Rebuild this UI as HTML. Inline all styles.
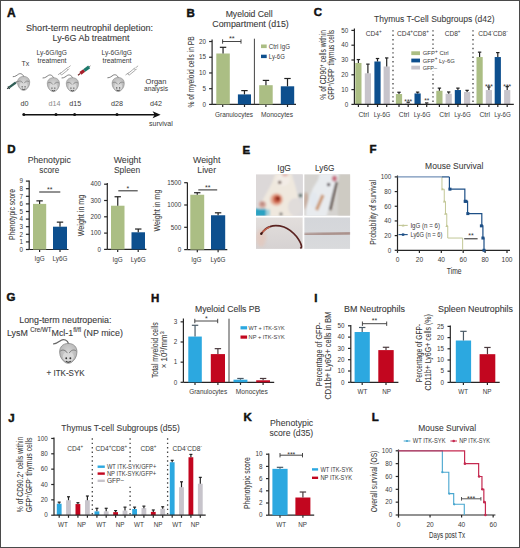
<!DOCTYPE html>
<html><head><meta charset="utf-8"><title>Figure</title>
<style>html,body{margin:0;padding:0;background:#fff;width:520px;height:548px;overflow:hidden}
svg{display:block;font-family:"Liberation Sans",sans-serif}</style></head>
<body>
<svg width="520" height="548" viewBox="0 0 520 548" font-family="Liberation Sans, sans-serif" fill="#3a3a3a">
<rect x="0.00" y="0.00" width="520.00" height="548.00" fill="#ffffff"/>
<rect x="0.5" y="0.5" width="519" height="547" fill="none" stroke="#4a4a4a" stroke-width="1"/>
<defs>
<radialGradient id="mg" cx="0.5" cy="0.4" r="0.65"><stop offset="0" stop-color="#d4d4d4"/><stop offset="1" stop-color="#b0b0b0"/></radialGradient>
<g id="mouse">
 <path d="M0.2,-6.8 C-0.6,-9.4 -3.2,-10.4 -5,-9.3 C-6.6,-8.3 -8.2,-6.6 -10.4,-6.7" fill="none" stroke="#666" stroke-width="0.85" stroke-linecap="round"/>
 <path d="M0,-7 C4,-7 6.1,-4.4 6.1,-1 C6.1,2.6 4.1,5 2.1,6.4 C1,7.1 -1,7.1 -2.1,6.4 C-4.1,5 -6.1,2.6 -6.1,-1 C-6.1,-4.4 -4,-7 0,-7 Z" fill="url(#mg)" stroke="#858585" stroke-width="0.55"/>
 <ellipse cx="0" cy="2.2" rx="3.9" ry="3.6" fill="#d9d9d9"/>
 <path d="M-0.7,-0.2 C-1.8,-2.4 -4,-3 -5.7,-1.6 M0.7,-0.2 C1.8,-2.4 4,-3 5.7,-1.6" fill="none" stroke="#7a7a7a" stroke-width="0.7"/>
 <circle cx="-1.45" cy="3.4" r="0.65" fill="#333"/><circle cx="1.45" cy="3.4" r="0.65" fill="#333"/>
 <path d="M-1.7,5.5 Q0,6.9 1.7,5.5" fill="none" stroke="#333" stroke-width="0.75"/>
</g>
<g id="syr_o">
 <path d="M0,0 L3,-2.2 M2.2,-1.2 L8.6,-6.4 L10,-5.0 L3.6,0.2 Z M8.6,-6.4 L9.8,-7.4 M10,-5.0 L11.2,-6.2 M10.2,-7.2 L12.6,-9.2" fill="none" stroke="#888" stroke-width="0.7"/>
</g>
</defs>
<text x="7.00" y="16.80" font-size="12" stroke="#111" stroke-width="0.45" fill="#111" font-weight="bold">A</text>
<text x="26.00" y="30.90" font-size="9.4" stroke="#3a3a3a" stroke-width="0.1" textLength="127.00" lengthAdjust="spacingAndGlyphs">Short-term neutrophil depletion:</text>
<text x="52.50" y="41.10" font-size="9.4" stroke="#3a3a3a" stroke-width="0.1" textLength="77.00" lengthAdjust="spacingAndGlyphs">Ly-6G Ab treatment</text>
<text x="36.50" y="54.60" font-size="7" textLength="30.50" lengthAdjust="spacingAndGlyphs">Ly-6G/IgG</text>
<text x="37.50" y="63.00" font-size="7" textLength="29.00" lengthAdjust="spacingAndGlyphs">treatment</text>
<text x="101.50" y="54.60" font-size="7" textLength="30.50" lengthAdjust="spacingAndGlyphs">Ly-6G/IgG</text>
<text x="102.50" y="63.00" font-size="7" textLength="29.00" lengthAdjust="spacingAndGlyphs">treatment</text>
<text x="21.50" y="65.80" font-size="7">Tx</text>
<text x="156.00" y="83.60" font-size="7.6" text-anchor="middle" textLength="21.00" lengthAdjust="spacingAndGlyphs">Organ</text>
<text x="156.00" y="91.20" font-size="7.6" text-anchor="middle" textLength="24.00" lengthAdjust="spacingAndGlyphs">analysis</text>
<text x="24.60" y="106.30" font-size="7.2" text-anchor="middle">d0</text>
<text x="54.60" y="106.30" font-size="7.2" text-anchor="middle" fill="#8a8a8a">d14</text>
<text x="75.20" y="106.30" font-size="7.2" text-anchor="middle">d15</text>
<text x="117.00" y="106.30" font-size="7.2" text-anchor="middle">d28</text>
<text x="156.00" y="106.30" font-size="7.2" text-anchor="middle">d42</text>
<line x1="23.80" y1="114.70" x2="155.00" y2="114.70" stroke="#111" stroke-width="1.35"/>
<path d="M152.6,111.2 L160.6,114.7 L152.6,118.2 L154.6,114.7 Z" fill="#111"/>
<circle cx="23.8" cy="114.6" r="1.5" fill="#111"/>
<circle cx="56.0" cy="114.6" r="1.5" fill="#111"/>
<circle cx="74.6" cy="114.6" r="1.5" fill="#111"/>
<circle cx="117.0" cy="114.6" r="1.5" fill="#111"/>
<text x="149.00" y="126.00" font-size="7">survival</text>
<use href="#mouse" transform="translate(23.6,83.4)"/>
<use href="#mouse" transform="translate(53.4,84.7)"/>
<use href="#mouse" transform="translate(72.4,84.7)"/>
<use href="#mouse" transform="translate(118.2,84.5)"/>
<g transform="translate(7.2,88.8) rotate(-36)"><rect x="0" y="-0.7" width="2.2" height="1.4" fill="#2b3a3a"/><rect x="1.6" y="-1.6" width="0.9" height="3.2" fill="#2b3a3a"/><rect x="2.5" y="-1.1" width="8.2" height="2.2" fill="#2f5e56"/><line x1="10.7" y1="0" x2="12.6" y2="0" stroke="#333" stroke-width="0.9"/></g>
<g transform="translate(78.0,75.2) rotate(-37)"><rect x="0" y="-0.6" width="3" height="1.2" fill="#6a1a1a"/><rect x="3" y="-1.6" width="4.8" height="3.2" fill="#a8202c"/><rect x="7.8" y="-1.7" width="6.2" height="3.4" fill="#1d7a6c"/><line x1="14" y1="0" x2="15.5" y2="0" stroke="#555" stroke-width="0.8"/></g>
<use href="#syr_o" transform="translate(58.0,74.8)"/>
<use href="#syr_o" transform="translate(125.5,75.0)"/>
<text x="186.60" y="16.60" font-size="11.5" stroke="#111" stroke-width="0.45" fill="#111" font-weight="bold">B</text>
<text x="225.70" y="17.00" font-size="9.0" stroke="#3a3a3a" stroke-width="0.1" textLength="47.00" lengthAdjust="spacingAndGlyphs">Myeloid Cell</text>
<text x="212.30" y="27.40" font-size="9.0" stroke="#3a3a3a" stroke-width="0.1" textLength="76.50" lengthAdjust="spacingAndGlyphs">Compartment (d15)</text>
<line x1="212.10" y1="39.50" x2="212.10" y2="104.40" stroke="#262626" stroke-width="1.2"/>
<line x1="209.10" y1="104.40" x2="212.10" y2="104.40" stroke="#262626" stroke-width="1.2"/>
<text x="205.90" y="106.65" font-size="6.3" text-anchor="end">0</text>
<line x1="209.10" y1="88.68" x2="212.10" y2="88.68" stroke="#262626" stroke-width="1.2"/>
<text x="205.90" y="90.93" font-size="6.3" text-anchor="end">5</text>
<line x1="209.10" y1="72.96" x2="212.10" y2="72.96" stroke="#262626" stroke-width="1.2"/>
<text x="205.90" y="75.21" font-size="6.3" text-anchor="end">10</text>
<line x1="209.10" y1="57.24" x2="212.10" y2="57.24" stroke="#262626" stroke-width="1.2"/>
<text x="205.90" y="59.49" font-size="6.3" text-anchor="end">15</text>
<line x1="209.10" y1="41.52" x2="212.10" y2="41.52" stroke="#262626" stroke-width="1.2"/>
<text x="205.90" y="43.77" font-size="6.3" text-anchor="end">20</text>
<line x1="212.10" y1="104.40" x2="296.00" y2="104.40" stroke="#262626" stroke-width="1.2"/>
<line x1="222.70" y1="104.40" x2="222.70" y2="107.00" stroke="#262626" stroke-width="1.2"/>
<line x1="244.50" y1="104.40" x2="244.50" y2="107.00" stroke="#262626" stroke-width="1.2"/>
<line x1="265.90" y1="104.40" x2="265.90" y2="107.00" stroke="#262626" stroke-width="1.2"/>
<line x1="287.50" y1="104.40" x2="287.50" y2="107.00" stroke="#262626" stroke-width="1.2"/>
<rect x="216.30" y="53.50" width="13.50" height="50.90" fill="#abbe84"/>
<line x1="223.05" y1="53.50" x2="223.05" y2="47.30" stroke="#222222" stroke-width="1.2"/>
<line x1="219.85" y1="47.30" x2="226.25" y2="47.30" stroke="#222222" stroke-width="1.2"/>
<rect x="237.90" y="94.40" width="13.10" height="10.00" fill="#0d4f8e"/>
<line x1="244.45" y1="94.40" x2="244.45" y2="90.60" stroke="#222222" stroke-width="1.2"/>
<line x1="241.25" y1="90.60" x2="247.65" y2="90.60" stroke="#222222" stroke-width="1.2"/>
<rect x="259.20" y="85.20" width="13.50" height="19.20" fill="#abbe84"/>
<line x1="265.95" y1="85.20" x2="265.95" y2="80.40" stroke="#222222" stroke-width="1.2"/>
<line x1="262.75" y1="80.40" x2="269.15" y2="80.40" stroke="#222222" stroke-width="1.2"/>
<rect x="280.80" y="86.30" width="13.40" height="18.10" fill="#0d4f8e"/>
<line x1="287.50" y1="86.30" x2="287.50" y2="78.50" stroke="#222222" stroke-width="1.2"/>
<line x1="284.30" y1="78.50" x2="290.70" y2="78.50" stroke="#222222" stroke-width="1.2"/>
<line x1="254.40" y1="38.70" x2="254.40" y2="104.40" stroke="#444" stroke-width="1.0"/>
<line x1="222.60" y1="41.50" x2="241.00" y2="41.50" stroke="#333" stroke-width="0.9"/>
<line x1="222.60" y1="39.30" x2="222.60" y2="43.70" stroke="#333" stroke-width="0.9"/>
<line x1="241.00" y1="39.30" x2="241.00" y2="43.70" stroke="#333" stroke-width="0.9"/>
<text x="231.80" y="41.20" font-size="7.4" text-anchor="middle" fill="#333">**</text>
<rect x="261.00" y="44.50" width="5.70" height="3.60" fill="#abbe84"/>
<text x="268.80" y="48.60" font-size="6.4" textLength="21.20" lengthAdjust="spacingAndGlyphs">Ctrl IgG</text>
<rect x="261.00" y="54.70" width="5.70" height="3.40" fill="#0d4f8e"/>
<text x="268.80" y="58.70" font-size="6.4" textLength="16.00" lengthAdjust="spacingAndGlyphs">Ly-6G</text>
<text x="234.00" y="116.50" font-size="7" text-anchor="middle" textLength="38.00" lengthAdjust="spacingAndGlyphs">Granulocytes</text>
<text x="277.00" y="116.50" font-size="7" text-anchor="middle" textLength="32.00" lengthAdjust="spacingAndGlyphs">Monocytes</text>
<text x="194.20" y="71.90" font-size="8.8" stroke="#3a3a3a" stroke-width="0.06" text-anchor="middle" textLength="71.00" lengthAdjust="spacingAndGlyphs" transform="rotate(-90 194.20 71.90)">% of myeloid cells in PB</text>
<text x="313.80" y="16.40" font-size="11.5" stroke="#111" stroke-width="0.45" fill="#111" font-weight="bold">C</text>
<text x="374.00" y="21.60" font-size="8.4" stroke="#3a3a3a" stroke-width="0.06" textLength="120.60" lengthAdjust="spacingAndGlyphs">Thymus T-Cell Subgroups (d42)</text>
<line x1="354.40" y1="28.40" x2="354.40" y2="104.40" stroke="#262626" stroke-width="1.2"/>
<line x1="351.40" y1="104.40" x2="354.40" y2="104.40" stroke="#262626" stroke-width="1.2"/>
<text x="348.20" y="106.65" font-size="6.3" text-anchor="end">0</text>
<line x1="351.40" y1="89.60" x2="354.40" y2="89.60" stroke="#262626" stroke-width="1.2"/>
<text x="348.20" y="91.85" font-size="6.3" text-anchor="end">10</text>
<line x1="351.40" y1="74.80" x2="354.40" y2="74.80" stroke="#262626" stroke-width="1.2"/>
<text x="348.20" y="77.05" font-size="6.3" text-anchor="end">20</text>
<line x1="351.40" y1="60.00" x2="354.40" y2="60.00" stroke="#262626" stroke-width="1.2"/>
<text x="348.20" y="62.25" font-size="6.3" text-anchor="end">30</text>
<line x1="351.40" y1="45.20" x2="354.40" y2="45.20" stroke="#262626" stroke-width="1.2"/>
<text x="348.20" y="47.45" font-size="6.3" text-anchor="end">40</text>
<line x1="351.40" y1="30.40" x2="354.40" y2="30.40" stroke="#262626" stroke-width="1.2"/>
<text x="348.20" y="32.65" font-size="6.3" text-anchor="end">50</text>
<rect x="355.30" y="62.96" width="6.20" height="41.44" fill="#abbe84"/>
<line x1="358.40" y1="62.96" x2="358.40" y2="59.56" stroke="#222222" stroke-width="1.2"/>
<line x1="356.70" y1="59.56" x2="360.10" y2="59.56" stroke="#222222" stroke-width="1.2"/>
<rect x="364.80" y="73.32" width="6.20" height="31.08" fill="#c7c4cb"/>
<line x1="367.90" y1="73.32" x2="367.90" y2="64.14" stroke="#222222" stroke-width="1.2"/>
<line x1="366.20" y1="64.14" x2="369.60" y2="64.14" stroke="#222222" stroke-width="1.2"/>
<rect x="374.40" y="61.48" width="6.20" height="42.92" fill="#0d4f8e"/>
<line x1="377.50" y1="61.48" x2="377.50" y2="58.52" stroke="#222222" stroke-width="1.2"/>
<line x1="375.80" y1="58.52" x2="379.20" y2="58.52" stroke="#222222" stroke-width="1.2"/>
<rect x="383.60" y="66.51" width="6.20" height="37.89" fill="#c7c4cb"/>
<line x1="386.70" y1="66.51" x2="386.70" y2="57.93" stroke="#222222" stroke-width="1.2"/>
<line x1="385.00" y1="57.93" x2="388.40" y2="57.93" stroke="#222222" stroke-width="1.2"/>
<rect x="395.90" y="94.04" width="6.20" height="10.36" fill="#abbe84"/>
<line x1="399.00" y1="94.04" x2="399.00" y2="92.26" stroke="#222222" stroke-width="1.2"/>
<line x1="397.30" y1="92.26" x2="400.70" y2="92.26" stroke="#222222" stroke-width="1.2"/>
<rect x="405.10" y="103.36" width="6.20" height="1.04" fill="#c7c4cb"/>
<line x1="408.20" y1="103.36" x2="408.20" y2="102.18" stroke="#222222" stroke-width="1.2"/>
<line x1="406.50" y1="102.18" x2="409.90" y2="102.18" stroke="#222222" stroke-width="1.2"/>
<rect x="414.50" y="93.45" width="6.20" height="10.95" fill="#0d4f8e"/>
<line x1="417.60" y1="93.45" x2="417.60" y2="92.12" stroke="#222222" stroke-width="1.2"/>
<line x1="415.90" y1="92.12" x2="419.30" y2="92.12" stroke="#222222" stroke-width="1.2"/>
<rect x="423.60" y="103.81" width="6.20" height="0.59" fill="#c7c4cb"/>
<line x1="426.70" y1="103.81" x2="426.70" y2="102.92" stroke="#222222" stroke-width="1.2"/>
<line x1="425.00" y1="102.92" x2="428.40" y2="102.92" stroke="#222222" stroke-width="1.2"/>
<rect x="436.30" y="90.78" width="6.20" height="13.62" fill="#abbe84"/>
<line x1="439.40" y1="90.78" x2="439.40" y2="88.12" stroke="#222222" stroke-width="1.2"/>
<line x1="437.70" y1="88.12" x2="441.10" y2="88.12" stroke="#222222" stroke-width="1.2"/>
<rect x="445.60" y="93.74" width="6.20" height="10.66" fill="#c7c4cb"/>
<line x1="448.70" y1="93.74" x2="448.70" y2="91.97" stroke="#222222" stroke-width="1.2"/>
<line x1="447.00" y1="91.97" x2="450.40" y2="91.97" stroke="#222222" stroke-width="1.2"/>
<rect x="454.80" y="90.04" width="6.20" height="14.36" fill="#0d4f8e"/>
<line x1="457.90" y1="90.04" x2="457.90" y2="88.12" stroke="#222222" stroke-width="1.2"/>
<line x1="456.20" y1="88.12" x2="459.60" y2="88.12" stroke="#222222" stroke-width="1.2"/>
<rect x="464.00" y="91.97" width="6.20" height="12.43" fill="#c7c4cb"/>
<line x1="467.10" y1="91.97" x2="467.10" y2="90.34" stroke="#222222" stroke-width="1.2"/>
<line x1="465.40" y1="90.34" x2="468.80" y2="90.34" stroke="#222222" stroke-width="1.2"/>
<rect x="476.50" y="57.04" width="6.20" height="47.36" fill="#abbe84"/>
<line x1="479.60" y1="57.04" x2="479.60" y2="52.16" stroke="#222222" stroke-width="1.2"/>
<line x1="477.90" y1="52.16" x2="481.30" y2="52.16" stroke="#222222" stroke-width="1.2"/>
<rect x="485.80" y="90.04" width="6.20" height="14.36" fill="#c7c4cb"/>
<line x1="488.90" y1="90.04" x2="488.90" y2="86.94" stroke="#222222" stroke-width="1.2"/>
<line x1="487.20" y1="86.94" x2="490.60" y2="86.94" stroke="#222222" stroke-width="1.2"/>
<rect x="494.70" y="57.04" width="6.20" height="47.36" fill="#0d4f8e"/>
<line x1="497.80" y1="57.04" x2="497.80" y2="52.60" stroke="#222222" stroke-width="1.2"/>
<line x1="496.10" y1="52.60" x2="499.50" y2="52.60" stroke="#222222" stroke-width="1.2"/>
<rect x="504.10" y="90.04" width="6.20" height="14.36" fill="#c7c4cb"/>
<line x1="507.20" y1="90.04" x2="507.20" y2="86.64" stroke="#222222" stroke-width="1.2"/>
<line x1="505.50" y1="86.64" x2="508.90" y2="86.64" stroke="#222222" stroke-width="1.2"/>
<line x1="354.40" y1="104.40" x2="513.80" y2="104.40" stroke="#262626" stroke-width="1.2"/>
<line x1="358.40" y1="104.40" x2="358.40" y2="107.00" stroke="#262626" stroke-width="1.2"/>
<line x1="367.90" y1="104.40" x2="367.90" y2="107.00" stroke="#262626" stroke-width="1.2"/>
<line x1="377.50" y1="104.40" x2="377.50" y2="107.00" stroke="#262626" stroke-width="1.2"/>
<line x1="386.70" y1="104.40" x2="386.70" y2="107.00" stroke="#262626" stroke-width="1.2"/>
<line x1="399.00" y1="104.40" x2="399.00" y2="107.00" stroke="#262626" stroke-width="1.2"/>
<line x1="408.20" y1="104.40" x2="408.20" y2="107.00" stroke="#262626" stroke-width="1.2"/>
<line x1="417.60" y1="104.40" x2="417.60" y2="107.00" stroke="#262626" stroke-width="1.2"/>
<line x1="426.70" y1="104.40" x2="426.70" y2="107.00" stroke="#262626" stroke-width="1.2"/>
<line x1="439.40" y1="104.40" x2="439.40" y2="107.00" stroke="#262626" stroke-width="1.2"/>
<line x1="448.70" y1="104.40" x2="448.70" y2="107.00" stroke="#262626" stroke-width="1.2"/>
<line x1="457.90" y1="104.40" x2="457.90" y2="107.00" stroke="#262626" stroke-width="1.2"/>
<line x1="467.10" y1="104.40" x2="467.10" y2="107.00" stroke="#262626" stroke-width="1.2"/>
<line x1="479.60" y1="104.40" x2="479.60" y2="107.00" stroke="#262626" stroke-width="1.2"/>
<line x1="488.90" y1="104.40" x2="488.90" y2="107.00" stroke="#262626" stroke-width="1.2"/>
<line x1="497.80" y1="104.40" x2="497.80" y2="107.00" stroke="#262626" stroke-width="1.2"/>
<line x1="507.20" y1="104.40" x2="507.20" y2="107.00" stroke="#262626" stroke-width="1.2"/>
<line x1="393.00" y1="30.20" x2="393.00" y2="104.40" stroke="#444" stroke-width="1.3" stroke-dasharray="1.4 3.0"/>
<line x1="433.00" y1="30.20" x2="433.00" y2="104.40" stroke="#444" stroke-width="1.3" stroke-dasharray="1.4 3.0"/>
<line x1="473.00" y1="30.20" x2="473.00" y2="104.40" stroke="#444" stroke-width="1.3" stroke-dasharray="1.4 3.0"/>
<text x="373.80" y="35.60" font-size="6.6" text-anchor="middle">CD4<tspan dy="-2.8" font-size="4.6">+</tspan></text>
<text x="413.00" y="35.60" font-size="6.6" text-anchor="middle">CD4<tspan dy="-2.8" font-size="4.6">+</tspan><tspan dy="2.8">CD8</tspan><tspan dy="-2.8" font-size="4.6">+</tspan></text>
<text x="452.60" y="35.60" font-size="6.6" text-anchor="middle">CD8<tspan dy="-2.8" font-size="4.6">+</tspan></text>
<text x="493.00" y="35.60" font-size="6.6" text-anchor="middle">CD4<tspan dy="-2.8" font-size="4.6">-</tspan><tspan dy="2.8">CD8</tspan><tspan dy="-2.8" font-size="4.6">-</tspan></text>
<text x="408.20" y="103.60" font-size="6.6" text-anchor="middle" fill="#333">***</text>
<text x="426.70" y="103.30" font-size="6.6" text-anchor="middle" fill="#333">**</text>
<text x="488.90" y="89.20" font-size="6.6" text-anchor="middle" fill="#333">***</text>
<text x="507.20" y="89.00" font-size="6.6" text-anchor="middle" fill="#333">***</text>
<text x="363.65" y="116.60" font-size="6.4" text-anchor="middle" textLength="10.50" lengthAdjust="spacingAndGlyphs">Ctrl</text>
<text x="382.10" y="116.60" font-size="6.4" text-anchor="middle" textLength="16.60" lengthAdjust="spacingAndGlyphs">Ly-6G</text>
<text x="404.10" y="116.60" font-size="6.4" text-anchor="middle" textLength="10.50" lengthAdjust="spacingAndGlyphs">Ctrl</text>
<text x="422.15" y="116.60" font-size="6.4" text-anchor="middle" textLength="16.60" lengthAdjust="spacingAndGlyphs">Ly-6G</text>
<text x="444.55" y="116.60" font-size="6.4" text-anchor="middle" textLength="10.50" lengthAdjust="spacingAndGlyphs">Ctrl</text>
<text x="462.50" y="116.60" font-size="6.4" text-anchor="middle" textLength="16.60" lengthAdjust="spacingAndGlyphs">Ly-6G</text>
<text x="484.75" y="116.60" font-size="6.4" text-anchor="middle" textLength="10.50" lengthAdjust="spacingAndGlyphs">Ctrl</text>
<text x="502.50" y="116.60" font-size="6.4" text-anchor="middle" textLength="16.60" lengthAdjust="spacingAndGlyphs">Ly-6G</text>
<rect x="410.00" y="49.00" width="50.00" height="22.00" fill="#ffffff"/>
<rect x="411.30" y="51.30" width="8.70" height="3.80" fill="#abbe84"/>
<text x="422.70" y="55.20" font-size="6.2" textLength="26.00" lengthAdjust="spacingAndGlyphs">GFP<tspan dy="-2.6" font-size="5">+</tspan><tspan dy="2.6"> Ctrl</tspan></text>
<rect x="411.30" y="58.60" width="8.70" height="3.80" fill="#0d4f8e"/>
<text x="422.70" y="62.50" font-size="6.2" textLength="32.00" lengthAdjust="spacingAndGlyphs">GFP<tspan dy="-2.6" font-size="5">+</tspan><tspan dy="2.6"> Ly-6G</tspan></text>
<rect x="411.30" y="65.70" width="8.70" height="3.80" fill="#c7c4cb"/>
<text x="422.70" y="69.60" font-size="6.2" textLength="14.40" lengthAdjust="spacingAndGlyphs">GFP–</text>
<text x="326.00" y="64.80" font-size="8.4" stroke="#3a3a3a" stroke-width="0.06" text-anchor="middle" textLength="69.80" lengthAdjust="spacingAndGlyphs" transform="rotate(-90 326.00 64.80)">% of CD90<tspan dy="-3.0" font-size="5.4">+</tspan><tspan dy="3.0"> cells within</tspan></text>
<text x="334.20" y="64.80" font-size="8.4" stroke="#3a3a3a" stroke-width="0.06" text-anchor="middle" textLength="69.80" lengthAdjust="spacingAndGlyphs" transform="rotate(-90 334.20 64.80)">GFP<tspan dy="-3.0" font-size="5.4">+</tspan><tspan dy="3.0">/GFP</tspan><tspan dy="-3.0" font-size="5.4">-</tspan><tspan dy="3.0"> thymus cells</tspan></text>
<text x="7.20" y="153.20" font-size="11.5" stroke="#111" stroke-width="0.45" fill="#111" font-weight="bold">D</text>
<text x="49.30" y="162.90" font-size="8.6" stroke="#3a3a3a" stroke-width="0.06" text-anchor="middle" textLength="43.30" lengthAdjust="spacingAndGlyphs">Phenotypic</text>
<text x="49.30" y="173.30" font-size="8.6" stroke="#3a3a3a" stroke-width="0.06" text-anchor="middle" textLength="20.00" lengthAdjust="spacingAndGlyphs">score</text>
<line x1="29.20" y1="180.50" x2="29.20" y2="249.50" stroke="#262626" stroke-width="1.2"/>
<line x1="25.90" y1="249.50" x2="29.20" y2="249.50" stroke="#262626" stroke-width="1.2"/>
<text x="23.00" y="251.75" font-size="6.3" text-anchor="end">0</text>
<line x1="25.90" y1="241.90" x2="29.20" y2="241.90" stroke="#262626" stroke-width="1.2"/>
<text x="23.00" y="244.15" font-size="6.3" text-anchor="end">1</text>
<line x1="25.90" y1="234.30" x2="29.20" y2="234.30" stroke="#262626" stroke-width="1.2"/>
<text x="23.00" y="236.55" font-size="6.3" text-anchor="end">2</text>
<line x1="25.90" y1="226.70" x2="29.20" y2="226.70" stroke="#262626" stroke-width="1.2"/>
<text x="23.00" y="228.95" font-size="6.3" text-anchor="end">3</text>
<line x1="25.90" y1="219.10" x2="29.20" y2="219.10" stroke="#262626" stroke-width="1.2"/>
<text x="23.00" y="221.35" font-size="6.3" text-anchor="end">4</text>
<line x1="25.90" y1="211.50" x2="29.20" y2="211.50" stroke="#262626" stroke-width="1.2"/>
<text x="23.00" y="213.75" font-size="6.3" text-anchor="end">5</text>
<line x1="25.90" y1="203.90" x2="29.20" y2="203.90" stroke="#262626" stroke-width="1.2"/>
<text x="23.00" y="206.15" font-size="6.3" text-anchor="end">6</text>
<line x1="25.90" y1="196.30" x2="29.20" y2="196.30" stroke="#262626" stroke-width="1.2"/>
<text x="23.00" y="198.55" font-size="6.3" text-anchor="end">7</text>
<line x1="25.90" y1="188.70" x2="29.20" y2="188.70" stroke="#262626" stroke-width="1.2"/>
<text x="23.00" y="190.95" font-size="6.3" text-anchor="end">8</text>
<line x1="25.90" y1="181.10" x2="29.20" y2="181.10" stroke="#262626" stroke-width="1.2"/>
<text x="23.00" y="183.35" font-size="6.3" text-anchor="end">9</text>
<line x1="29.20" y1="249.50" x2="68.50" y2="249.50" stroke="#262626" stroke-width="1.2"/>
<line x1="39.60" y1="249.50" x2="39.60" y2="252.10" stroke="#262626" stroke-width="1.2"/>
<line x1="60.00" y1="249.50" x2="60.00" y2="252.10" stroke="#262626" stroke-width="1.2"/>
<rect x="33.00" y="203.90" width="13.20" height="45.60" fill="#abbe84"/>
<line x1="39.60" y1="203.90" x2="39.60" y2="200.86" stroke="#222222" stroke-width="1.2"/>
<line x1="36.40" y1="200.86" x2="42.80" y2="200.86" stroke="#222222" stroke-width="1.2"/>
<rect x="53.00" y="226.70" width="14.00" height="22.80" fill="#0d4f8e"/>
<line x1="60.00" y1="226.70" x2="60.00" y2="222.14" stroke="#222222" stroke-width="1.2"/>
<line x1="56.80" y1="222.14" x2="63.20" y2="222.14" stroke="#222222" stroke-width="1.2"/>
<line x1="39.20" y1="192.00" x2="60.30" y2="192.00" stroke="#3a3a3a" stroke-width="1.1"/>
<text x="49.70" y="191.60" font-size="7" text-anchor="middle" fill="#333">**</text>
<text x="39.60" y="261.00" font-size="6.4" text-anchor="middle">IgG</text>
<text x="60.00" y="261.00" font-size="6.4" text-anchor="middle">Ly6G</text>
<text x="14.60" y="214.50" font-size="8.6" stroke="#3a3a3a" stroke-width="0.06" text-anchor="middle" textLength="51.00" lengthAdjust="spacingAndGlyphs" transform="rotate(-90 14.60 214.50)">Phenotypic score</text>
<text x="127.30" y="162.90" font-size="8.5" stroke="#3a3a3a" stroke-width="0.06" text-anchor="middle" textLength="27.30" lengthAdjust="spacingAndGlyphs">Weight</text>
<text x="127.10" y="173.20" font-size="8.5" stroke="#3a3a3a" stroke-width="0.06" text-anchor="middle" textLength="26.30" lengthAdjust="spacingAndGlyphs">Spleen</text>
<line x1="107.30" y1="183.00" x2="107.30" y2="249.40" stroke="#262626" stroke-width="1.2"/>
<line x1="104.10" y1="249.40" x2="107.30" y2="249.40" stroke="#262626" stroke-width="1.2"/>
<text x="101.10" y="251.65" font-size="6.3" text-anchor="end">0</text>
<line x1="104.10" y1="233.10" x2="107.30" y2="233.10" stroke="#262626" stroke-width="1.2"/>
<text x="101.10" y="235.35" font-size="6.3" text-anchor="end">100</text>
<line x1="104.10" y1="216.80" x2="107.30" y2="216.80" stroke="#262626" stroke-width="1.2"/>
<text x="101.10" y="219.05" font-size="6.3" text-anchor="end">200</text>
<line x1="104.10" y1="200.50" x2="107.30" y2="200.50" stroke="#262626" stroke-width="1.2"/>
<text x="101.10" y="202.75" font-size="6.3" text-anchor="end">300</text>
<line x1="104.10" y1="184.20" x2="107.30" y2="184.20" stroke="#262626" stroke-width="1.2"/>
<text x="101.10" y="186.45" font-size="6.3" text-anchor="end">400</text>
<line x1="107.30" y1="249.40" x2="146.40" y2="249.40" stroke="#262626" stroke-width="1.2"/>
<line x1="117.70" y1="249.40" x2="117.70" y2="252.00" stroke="#262626" stroke-width="1.2"/>
<line x1="138.20" y1="249.40" x2="138.20" y2="252.00" stroke="#262626" stroke-width="1.2"/>
<rect x="111.00" y="205.72" width="13.50" height="43.68" fill="#abbe84"/>
<line x1="117.75" y1="205.72" x2="117.75" y2="196.75" stroke="#222222" stroke-width="1.2"/>
<line x1="114.55" y1="196.75" x2="120.95" y2="196.75" stroke="#222222" stroke-width="1.2"/>
<rect x="131.50" y="232.28" width="13.50" height="17.12" fill="#0d4f8e"/>
<line x1="138.25" y1="232.28" x2="138.25" y2="229.03" stroke="#222222" stroke-width="1.2"/>
<line x1="135.05" y1="229.03" x2="141.45" y2="229.03" stroke="#222222" stroke-width="1.2"/>
<line x1="118.30" y1="190.80" x2="137.70" y2="190.80" stroke="#3a3a3a" stroke-width="1.1"/>
<text x="127.80" y="190.60" font-size="7" text-anchor="middle" fill="#333">*</text>
<text x="117.60" y="262.30" font-size="6.4" text-anchor="middle">IgG</text>
<text x="138.20" y="262.30" font-size="6.4" text-anchor="middle">Ly6G</text>
<text x="84.00" y="215.50" font-size="8.2" stroke="#3a3a3a" stroke-width="0.06" text-anchor="middle" textLength="41.50" lengthAdjust="spacingAndGlyphs" transform="rotate(-90 84.00 215.50)">Weight in mg</text>
<text x="206.70" y="162.90" font-size="8.5" stroke="#3a3a3a" stroke-width="0.06" text-anchor="middle" textLength="27.30" lengthAdjust="spacingAndGlyphs">Weight</text>
<text x="206.70" y="173.40" font-size="8.5" stroke="#3a3a3a" stroke-width="0.06" text-anchor="middle" textLength="18.70" lengthAdjust="spacingAndGlyphs">Liver</text>
<line x1="187.40" y1="182.50" x2="187.40" y2="249.60" stroke="#262626" stroke-width="1.2"/>
<line x1="184.20" y1="249.60" x2="187.40" y2="249.60" stroke="#262626" stroke-width="1.2"/>
<text x="181.20" y="251.85" font-size="6.3" text-anchor="end">0</text>
<line x1="184.20" y1="227.30" x2="187.40" y2="227.30" stroke="#262626" stroke-width="1.2"/>
<text x="181.20" y="229.55" font-size="6.3" text-anchor="end">500</text>
<line x1="184.20" y1="205.00" x2="187.40" y2="205.00" stroke="#262626" stroke-width="1.2"/>
<text x="181.20" y="207.25" font-size="6.3" text-anchor="end">1000</text>
<line x1="184.20" y1="182.70" x2="187.40" y2="182.70" stroke="#262626" stroke-width="1.2"/>
<text x="181.20" y="184.95" font-size="6.3" text-anchor="end">1500</text>
<line x1="187.40" y1="249.60" x2="227.30" y2="249.60" stroke="#262626" stroke-width="1.2"/>
<line x1="197.30" y1="249.60" x2="197.30" y2="252.20" stroke="#262626" stroke-width="1.2"/>
<line x1="218.10" y1="249.60" x2="218.10" y2="252.20" stroke="#262626" stroke-width="1.2"/>
<rect x="190.30" y="194.74" width="13.90" height="54.86" fill="#abbe84"/>
<line x1="197.25" y1="194.74" x2="197.25" y2="192.73" stroke="#222222" stroke-width="1.2"/>
<line x1="194.05" y1="192.73" x2="200.45" y2="192.73" stroke="#222222" stroke-width="1.2"/>
<rect x="211.00" y="215.26" width="14.20" height="34.34" fill="#0d4f8e"/>
<line x1="218.10" y1="215.26" x2="218.10" y2="212.81" stroke="#222222" stroke-width="1.2"/>
<line x1="214.90" y1="212.81" x2="221.30" y2="212.81" stroke="#222222" stroke-width="1.2"/>
<line x1="198.30" y1="189.90" x2="217.20" y2="189.90" stroke="#3a3a3a" stroke-width="1.1"/>
<text x="207.80" y="190.20" font-size="7" text-anchor="middle" fill="#333">**</text>
<text x="196.40" y="261.70" font-size="6.4" text-anchor="middle">IgG</text>
<text x="218.00" y="261.70" font-size="6.4" text-anchor="middle">Ly6G</text>
<text x="160.50" y="210.60" font-size="8.2" stroke="#3a3a3a" stroke-width="0.06" text-anchor="middle" textLength="42.00" lengthAdjust="spacingAndGlyphs" transform="rotate(-90 160.50 210.60)">Weight in mg</text>
<text x="242.40" y="153.80" font-size="11.5" stroke="#111" stroke-width="0.45" fill="#111" font-weight="bold">E</text>
<text x="284.10" y="171.00" font-size="9.4" stroke="#3a3a3a" stroke-width="0.08" text-anchor="middle" textLength="13.60" lengthAdjust="spacingAndGlyphs">IgG</text>
<text x="324.80" y="171.00" font-size="9.4" stroke="#3a3a3a" stroke-width="0.08" text-anchor="middle" textLength="19.40" lengthAdjust="spacingAndGlyphs">Ly6G</text>
<defs>
<clipPath id="p1"><rect x="256" y="174.2" width="46.8" height="41.6"/></clipPath>
<clipPath id="p2"><rect x="304.2" y="174.2" width="46" height="41.6"/></clipPath>
<clipPath id="p3"><rect x="256" y="217.3" width="46.8" height="31.6"/></clipPath>
<clipPath id="p4"><rect x="304.2" y="217.3" width="46" height="31.6"/></clipPath>
<filter id="bl1" x="-20%" y="-20%" width="140%" height="140%"><feGaussianBlur stdDeviation="1.6"/></filter>
<filter id="bl3" x="-20%" y="-20%" width="140%" height="140%"><feGaussianBlur stdDeviation="0.45"/></filter>
<filter id="bl2" x="-20%" y="-20%" width="140%" height="140%"><feGaussianBlur stdDeviation="0.9"/></filter>
<linearGradient id="g1" x1="0" y1="0" x2="1" y2="0"><stop offset="0" stop-color="#d9d4d2"/><stop offset="1" stop-color="#dcdad8"/></linearGradient>
<linearGradient id="g2" x1="0" y1="0" x2="1" y2="0"><stop offset="0" stop-color="#cbbfb4"/><stop offset="0.6" stop-color="#d2ccc6"/><stop offset="1" stop-color="#d6d2cb"/></linearGradient>
<linearGradient id="g3" x1="0" y1="0" x2="0" y2="1"><stop offset="0" stop-color="#e2dedc"/><stop offset="1" stop-color="#d6d2d2"/></linearGradient>
<linearGradient id="g4" x1="0" y1="0" x2="0" y2="1"><stop offset="0" stop-color="#d4d6da"/><stop offset="1" stop-color="#d9dadc"/></linearGradient>
</defs>
<g clip-path="url(#p1)">
 <rect x="256" y="174.2" width="46.8" height="41.6" fill="#dcd8d8"/>
 <g filter="url(#bl2)">
  <rect x="290" y="174" width="14" height="42" fill="#dbd9db"/>
  <path d="M276,172 L291,172 L295,185 L298,197 L296,210 L292,218 L257,218 L260,205 L266,194 L272,183 Z" fill="#efe8de"/>
  <ellipse cx="295" cy="207" rx="7" ry="9" fill="#e0dcda"/>
  <ellipse cx="283" cy="180" rx="7" ry="6" fill="#f3ece6"/>
  <ellipse cx="285" cy="174.5" rx="3" ry="2" fill="#e2b8b0"/>
  <ellipse cx="276.5" cy="199.5" rx="6.4" ry="6.2" fill="#e6ae98"/>
  <circle cx="277" cy="199.2" r="4.0" fill="#cc6248"/>
  <circle cx="277.8" cy="198.6" r="2.1" fill="#8a2418"/>
  <circle cx="262.5" cy="204.5" r="3.6" fill="#d4a69c"/>
  <circle cx="262.3" cy="204" r="1.4" fill="#ae7a70"/>
  <rect x="255" y="208.8" width="11" height="8" fill="#2aa2c2"/>
  <rect x="266" y="209.5" width="4" height="6.5" fill="#a2d0da"/>
  <circle cx="279.7" cy="182.2" r="1.5" fill="#4a2a20"/>
  <circle cx="300.5" cy="195.5" r="2" fill="#5d716c"/>
  <circle cx="281" cy="214" r="1.5" fill="#5a5a5a"/>
 </g>
</g>
<g clip-path="url(#p2)">
 <rect x="304.2" y="174.2" width="46" height="41.6" fill="#d5d3d0"/>
 <g filter="url(#bl2)">
  <rect x="338" y="174" width="13" height="42" fill="#cecbc3"/>
  <ellipse cx="306" cy="201" rx="2.6" ry="9" fill="#c6aea0"/>
  <path d="M320,172 L339,172 L338,183 L334,195 L329,208 L326,218 L306,218 L306,208 L309,198 L313,188 L318,180 Z" fill="#e8ebee"/>
  <ellipse cx="314" cy="200" rx="4" ry="8" fill="#e3e8ee"/>
  <ellipse cx="334.5" cy="178.5" rx="2.6" ry="3" fill="#c87080"/>
  <circle cx="328.6" cy="184.6" r="1.6" fill="#2a1420"/>
  <path d="M336.8,182 L333.2,196 L330,210" fill="none" stroke="#4e3e36" stroke-width="2.3"/>
  <path d="M323,195 L316.5,210" stroke="#cc9a76" stroke-width="3.2"/>
 </g>
</g>
<g clip-path="url(#p3)">
 <rect x="256" y="217.3" width="46.8" height="31.6" fill="url(#g3)"/>
 <ellipse cx="261" cy="238" rx="5" ry="9" fill="#e6c4b6" opacity="0.6" filter="url(#bl1)"/>
 <path d="M261.3,233.8 C264,230 267,227.5 270,226.6 C273,225.6 278,225.2 284,227 C289,228.8 293,232.5 296.5,236.5 C299.5,240.5 301.5,244 301.6,247 L300.4,248.6" fill="none" stroke="#5a2420" stroke-width="1.7" filter="url(#bl3)"/>
 <path d="M262.5,232 C265,229.5 267,228 270,227" fill="none" stroke="#c0604a" stroke-width="1.6" filter="url(#bl3)"/>
 <circle cx="261.3" cy="233.8" r="1.2" fill="#3a1410"/>
</g>
<g clip-path="url(#p4)">
 <rect x="304.2" y="217.3" width="46" height="31.6" fill="url(#g4)"/>
 <path d="M304,234.6 L351,233.2" stroke="#8a5e52" stroke-width="1.9" filter="url(#bl2)"/>
</g>
<text x="369.40" y="153.20" font-size="11.5" stroke="#111" stroke-width="0.45" fill="#111" font-weight="bold">F</text>
<text x="454.20" y="169.00" font-size="8.8" stroke="#3a3a3a" stroke-width="0.06" text-anchor="middle" textLength="58.20" lengthAdjust="spacingAndGlyphs">Mouse Survival</text>
<line x1="397.50" y1="175.50" x2="397.50" y2="250.30" stroke="#262626" stroke-width="1.2"/>
<line x1="394.70" y1="250.30" x2="397.50" y2="250.30" stroke="#262626" stroke-width="1.2"/>
<text x="391.30" y="252.55" font-size="6.3" text-anchor="end">0</text>
<line x1="394.70" y1="235.62" x2="397.50" y2="235.62" stroke="#262626" stroke-width="1.2"/>
<text x="391.30" y="237.87" font-size="6.3" text-anchor="end">20</text>
<line x1="394.70" y1="220.94" x2="397.50" y2="220.94" stroke="#262626" stroke-width="1.2"/>
<text x="391.30" y="223.19" font-size="6.3" text-anchor="end">40</text>
<line x1="394.70" y1="206.26" x2="397.50" y2="206.26" stroke="#262626" stroke-width="1.2"/>
<text x="391.30" y="208.51" font-size="6.3" text-anchor="end">60</text>
<line x1="394.70" y1="191.58" x2="397.50" y2="191.58" stroke="#262626" stroke-width="1.2"/>
<text x="391.30" y="193.83" font-size="6.3" text-anchor="end">80</text>
<line x1="394.70" y1="176.90" x2="397.50" y2="176.90" stroke="#262626" stroke-width="1.2"/>
<text x="391.30" y="179.15" font-size="6.3" text-anchor="end">100</text>
<line x1="397.50" y1="250.30" x2="510.00" y2="250.30" stroke="#262626" stroke-width="1.2"/>
<line x1="397.50" y1="250.30" x2="397.50" y2="252.90" stroke="#262626" stroke-width="1.2"/>
<line x1="419.40" y1="250.30" x2="419.40" y2="252.90" stroke="#262626" stroke-width="1.2"/>
<line x1="441.30" y1="250.30" x2="441.30" y2="252.90" stroke="#262626" stroke-width="1.2"/>
<line x1="463.20" y1="250.30" x2="463.20" y2="252.90" stroke="#262626" stroke-width="1.2"/>
<line x1="485.10" y1="250.30" x2="485.10" y2="252.90" stroke="#262626" stroke-width="1.2"/>
<line x1="507.00" y1="250.30" x2="507.00" y2="252.90" stroke="#262626" stroke-width="1.2"/>
<text x="397.50" y="261.60" font-size="6.6" text-anchor="middle">0</text>
<text x="419.40" y="261.60" font-size="6.6" text-anchor="middle">20</text>
<text x="441.30" y="261.60" font-size="6.6" text-anchor="middle">40</text>
<text x="463.20" y="261.60" font-size="6.6" text-anchor="middle">60</text>
<text x="485.10" y="261.60" font-size="6.6" text-anchor="middle">80</text>
<text x="507.00" y="261.60" font-size="6.6" text-anchor="middle">100</text>
<text x="454.20" y="274.30" font-size="8.4" stroke="#3a3a3a" stroke-width="0.06" text-anchor="middle" textLength="14.70" lengthAdjust="spacingAndGlyphs">Time</text>
<text x="376.00" y="212.30" font-size="8.4" stroke="#3a3a3a" stroke-width="0.06" text-anchor="middle" textLength="64.80" lengthAdjust="spacingAndGlyphs" transform="rotate(-90 376.00 212.30)">Probability of survival</text>
<path d="M449.40,176.90 L449.40,189.16 L464.84,189.16 L464.84,201.34 L467.58,201.34 L467.58,213.60 L481.81,213.60 L481.81,225.86 L482.91,225.86 L482.91,238.04 L484.00,238.04 L484.00,250.30" fill="none" stroke="#1d4f86" stroke-width="1.2"/>
<path d="M441.96,176.90 L441.96,189.16 L444.26,189.16 L444.26,201.34 L445.46,201.34 L445.46,213.60 L446.77,213.60 L446.77,225.86 L447.76,225.86 L447.76,238.04 L462.65,238.04 L462.65,250.30" fill="none" stroke="#c2c796" stroke-width="1.0"/>
<line x1="397.50" y1="176.90" x2="441.96" y2="176.90" stroke="#7592b8" stroke-width="1.4"/>
<line x1="441.96" y1="176.90" x2="449.40" y2="176.90" stroke="#1d4f86" stroke-width="1.2"/>
<path d="M442.39,187.66 l1.4,2.6 l-2.8,0 z" fill="#c2c796"/>
<path d="M444.26,199.84 l1.4,2.6 l-2.8,0 z" fill="#c2c796"/>
<path d="M445.46,212.10 l1.4,2.6 l-2.8,0 z" fill="#c2c796"/>
<path d="M446.77,224.36 l1.4,2.6 l-2.8,0 z" fill="#c2c796"/>
<rect x="448.45" y="187.66" width="3" height="3" fill="#1d4f86"/>
<rect x="463.67" y="199.84" width="3" height="3" fill="#1d4f86"/>
<rect x="464.44" y="199.84" width="3" height="3" fill="#1d4f86"/>
<rect x="466.30" y="212.10" width="3" height="3" fill="#1d4f86"/>
<rect x="479.88" y="224.36" width="3" height="3" fill="#1d4f86"/>
<rect x="481.41" y="236.54" width="3" height="3" fill="#1d4f86"/>
<rect x="482.50" y="248.80" width="3" height="3" fill="#1d4f86"/>
<line x1="398.50" y1="225.40" x2="407.70" y2="225.40" stroke="#c2c796" stroke-width="1.1"/>
<path d="M403.1,223.9 l1.4,2.6 l-2.8,0 z" fill="#c2c796"/>
<text x="410.40" y="227.80" font-size="6.8" textLength="29.60" lengthAdjust="spacingAndGlyphs">IgG (n = 6)</text>
<line x1="398.50" y1="234.60" x2="407.70" y2="234.60" stroke="#1d4f86" stroke-width="1.1"/>
<rect x="401.90" y="233.40" width="2.40" height="2.40" fill="#1d4f86"/>
<text x="410.40" y="237.00" font-size="6.8" textLength="32.00" lengthAdjust="spacingAndGlyphs">Ly6G (n = 6)</text>
<line x1="464.20" y1="238.80" x2="477.60" y2="238.80" stroke="#222" stroke-width="1.0"/>
<text x="470.90" y="238.40" font-size="7" text-anchor="middle" fill="#333">**</text>
<text x="6.40" y="301.40" font-size="11.5" stroke="#111" stroke-width="0.45" fill="#111" font-weight="bold">G</text>
<text x="19.20" y="322.80" font-size="9.2" stroke="#3a3a3a" stroke-width="0.1" textLength="92.30" lengthAdjust="spacingAndGlyphs">Long-term neutropenia:</text>
<text x="6.90" y="335.80" font-size="9.2" stroke="#3a3a3a" stroke-width="0.1" textLength="116.00" lengthAdjust="spacingAndGlyphs">LysM <tspan dy="-3.9" font-size="6.4">Cre/WT</tspan><tspan dy="3.9">Mcl-1</tspan><tspan dy="-3.9" font-size="6.4">fl/fl</tspan><tspan dy="3.9"> (NP mice)</tspan></text>
<use href="#mouse" transform="translate(68.3,353.4) scale(1.42)"/>
<text x="65.60" y="376.20" font-size="9.2" stroke="#3a3a3a" stroke-width="0.1" text-anchor="middle" textLength="38.00" lengthAdjust="spacingAndGlyphs">+ ITK-SYK</text>
<text x="151.00" y="301.50" font-size="11.5" stroke="#111" stroke-width="0.45" fill="#111" font-weight="bold">H</text>
<text x="195.00" y="312.00" font-size="9.0" stroke="#3a3a3a" stroke-width="0.1" textLength="65.30" lengthAdjust="spacingAndGlyphs">Myeloid Cells PB</text>
<line x1="183.40" y1="318.50" x2="183.40" y2="382.30" stroke="#262626" stroke-width="1.2"/>
<line x1="180.60" y1="382.30" x2="183.40" y2="382.30" stroke="#262626" stroke-width="1.2"/>
<text x="177.20" y="384.55" font-size="6.3" text-anchor="end">0</text>
<line x1="180.60" y1="362.15" x2="183.40" y2="362.15" stroke="#262626" stroke-width="1.2"/>
<text x="177.20" y="364.40" font-size="6.3" text-anchor="end">1</text>
<line x1="180.60" y1="342.00" x2="183.40" y2="342.00" stroke="#262626" stroke-width="1.2"/>
<text x="177.20" y="344.25" font-size="6.3" text-anchor="end">2</text>
<line x1="180.60" y1="321.85" x2="183.40" y2="321.85" stroke="#262626" stroke-width="1.2"/>
<text x="177.20" y="324.10" font-size="6.3" text-anchor="end">3</text>
<line x1="183.40" y1="382.30" x2="274.20" y2="382.30" stroke="#262626" stroke-width="1.2"/>
<line x1="195.00" y1="382.30" x2="195.00" y2="384.90" stroke="#262626" stroke-width="1.2"/>
<line x1="217.90" y1="382.30" x2="217.90" y2="384.90" stroke="#262626" stroke-width="1.2"/>
<line x1="240.50" y1="382.30" x2="240.50" y2="384.90" stroke="#262626" stroke-width="1.2"/>
<line x1="263.10" y1="382.30" x2="263.10" y2="384.90" stroke="#262626" stroke-width="1.2"/>
<rect x="188.30" y="336.56" width="13.50" height="45.74" fill="#2ca8e0"/>
<line x1="195.05" y1="336.56" x2="195.05" y2="325.28" stroke="#4a5a66" stroke-width="1.2"/>
<line x1="191.85" y1="325.28" x2="198.25" y2="325.28" stroke="#4a5a66" stroke-width="1.2"/>
<rect x="210.80" y="354.09" width="14.20" height="28.21" fill="#c2061f"/>
<line x1="217.90" y1="354.09" x2="217.90" y2="348.65" stroke="#4a3a3e" stroke-width="1.2"/>
<line x1="214.70" y1="348.65" x2="221.10" y2="348.65" stroke="#4a3a3e" stroke-width="1.2"/>
<rect x="233.50" y="379.68" width="13.90" height="2.62" fill="#2ca8e0"/>
<line x1="240.45" y1="379.68" x2="240.45" y2="378.47" stroke="#4a5a66" stroke-width="1.2"/>
<line x1="237.25" y1="378.47" x2="243.65" y2="378.47" stroke="#4a5a66" stroke-width="1.2"/>
<rect x="256.20" y="380.29" width="13.80" height="2.01" fill="#c2061f"/>
<line x1="263.10" y1="380.29" x2="263.10" y2="378.47" stroke="#4a3a3e" stroke-width="1.2"/>
<line x1="259.90" y1="378.47" x2="266.30" y2="378.47" stroke="#4a3a3e" stroke-width="1.2"/>
<line x1="229.00" y1="318.70" x2="229.00" y2="382.30" stroke="#444" stroke-width="1.0"/>
<line x1="194.80" y1="321.00" x2="217.70" y2="321.00" stroke="#333" stroke-width="0.9"/>
<line x1="194.80" y1="318.80" x2="194.80" y2="323.20" stroke="#333" stroke-width="0.9"/>
<line x1="217.70" y1="318.80" x2="217.70" y2="323.20" stroke="#333" stroke-width="0.9"/>
<text x="206.25" y="320.60" font-size="7" text-anchor="middle" fill="#333">*</text>
<rect x="240.50" y="326.20" width="6.60" height="3.20" fill="#2ca8e0"/>
<text x="248.60" y="329.80" font-size="6.2" textLength="36.20" lengthAdjust="spacingAndGlyphs">WT + ITK-SYK</text>
<rect x="240.50" y="335.50" width="6.60" height="3.20" fill="#c2061f"/>
<text x="248.60" y="339.10" font-size="6.2" textLength="36.20" lengthAdjust="spacingAndGlyphs">NP + ITK-SYK</text>
<text x="208.20" y="393.60" font-size="7" text-anchor="middle" textLength="38.00" lengthAdjust="spacingAndGlyphs">Granulocytes</text>
<text x="251.80" y="393.60" font-size="7" text-anchor="middle" textLength="32.00" lengthAdjust="spacingAndGlyphs">Monocytes</text>
<text x="157.60" y="350.20" font-size="8.4" stroke="#3a3a3a" stroke-width="0.06" text-anchor="middle" textLength="55.80" lengthAdjust="spacingAndGlyphs" transform="rotate(-90 157.60 350.20)">Total myeloid cells</text>
<text x="167.20" y="349.80" font-size="8.4" stroke="#3a3a3a" stroke-width="0.06" text-anchor="middle" textLength="37.00" lengthAdjust="spacingAndGlyphs" transform="rotate(-90 167.20 349.80)">× 10<tspan dy="-3.0" font-size="5.6">3</tspan><tspan dy="3.0">/mm</tspan><tspan dy="-3.0" font-size="5.6">3</tspan></text>
<text x="314.20" y="302.00" font-size="11.5" stroke="#111" stroke-width="0.45" fill="#111" font-weight="bold">I</text>
<text x="344.00" y="311.80" font-size="9.1" stroke="#3a3a3a" stroke-width="0.1" textLength="61.00" lengthAdjust="spacingAndGlyphs">BM Neutrophils</text>
<line x1="350.80" y1="325.00" x2="350.80" y2="382.30" stroke="#262626" stroke-width="1.2"/>
<line x1="348.00" y1="382.30" x2="350.80" y2="382.30" stroke="#262626" stroke-width="1.2"/>
<text x="344.60" y="384.55" font-size="6.3" text-anchor="end">0</text>
<line x1="348.00" y1="371.00" x2="350.80" y2="371.00" stroke="#262626" stroke-width="1.2"/>
<text x="344.60" y="373.25" font-size="6.3" text-anchor="end">10</text>
<line x1="348.00" y1="359.70" x2="350.80" y2="359.70" stroke="#262626" stroke-width="1.2"/>
<text x="344.60" y="361.95" font-size="6.3" text-anchor="end">20</text>
<line x1="348.00" y1="348.40" x2="350.80" y2="348.40" stroke="#262626" stroke-width="1.2"/>
<text x="344.60" y="350.65" font-size="6.3" text-anchor="end">30</text>
<line x1="348.00" y1="337.10" x2="350.80" y2="337.10" stroke="#262626" stroke-width="1.2"/>
<text x="344.60" y="339.35" font-size="6.3" text-anchor="end">40</text>
<line x1="348.00" y1="325.80" x2="350.80" y2="325.80" stroke="#262626" stroke-width="1.2"/>
<text x="344.60" y="328.05" font-size="6.3" text-anchor="end">50</text>
<line x1="350.80" y1="382.30" x2="398.40" y2="382.30" stroke="#262626" stroke-width="1.2"/>
<line x1="362.20" y1="382.30" x2="362.20" y2="384.90" stroke="#262626" stroke-width="1.2"/>
<line x1="386.00" y1="382.30" x2="386.00" y2="384.90" stroke="#262626" stroke-width="1.2"/>
<rect x="354.60" y="332.01" width="15.20" height="50.29" fill="#2ca8e0"/>
<line x1="362.20" y1="332.01" x2="362.20" y2="327.50" stroke="#4a5a66" stroke-width="1.2"/>
<line x1="359.00" y1="327.50" x2="365.40" y2="327.50" stroke="#4a5a66" stroke-width="1.2"/>
<rect x="378.30" y="350.10" width="15.40" height="32.20" fill="#c2061f"/>
<line x1="386.00" y1="350.10" x2="386.00" y2="347.27" stroke="#4a3a3e" stroke-width="1.2"/>
<line x1="382.80" y1="347.27" x2="389.20" y2="347.27" stroke="#4a3a3e" stroke-width="1.2"/>
<line x1="362.40" y1="323.70" x2="386.70" y2="323.70" stroke="#333" stroke-width="0.9"/>
<line x1="362.40" y1="321.50" x2="362.40" y2="325.90" stroke="#333" stroke-width="0.9"/>
<line x1="386.70" y1="321.50" x2="386.70" y2="325.90" stroke="#333" stroke-width="0.9"/>
<text x="374.55" y="323.40" font-size="7" text-anchor="middle" fill="#333">**</text>
<text x="362.40" y="393.50" font-size="6.3" text-anchor="middle">WT</text>
<text x="386.50" y="393.50" font-size="6.3" text-anchor="middle">NP</text>
<text x="321.60" y="354.30" font-size="8.4" stroke="#3a3a3a" stroke-width="0.06" text-anchor="middle" textLength="64.00" lengthAdjust="spacingAndGlyphs" transform="rotate(-90 321.60 354.30)">Percentage of GFP-</text>
<text x="331.00" y="355.60" font-size="8.4" stroke="#3a3a3a" stroke-width="0.06" text-anchor="middle" textLength="88.00" lengthAdjust="spacingAndGlyphs" transform="rotate(-90 331.00 355.60)">CD11b+ Ly6G+ cells in BM</text>
<text x="438.00" y="311.80" font-size="9.1" stroke="#3a3a3a" stroke-width="0.1" textLength="75.00" lengthAdjust="spacingAndGlyphs">Spleen Neutrophils</text>
<line x1="450.30" y1="325.50" x2="450.30" y2="382.40" stroke="#262626" stroke-width="1.2"/>
<line x1="447.50" y1="382.40" x2="450.30" y2="382.40" stroke="#262626" stroke-width="1.2"/>
<text x="444.10" y="384.65" font-size="6.3" text-anchor="end">0</text>
<line x1="447.50" y1="371.20" x2="450.30" y2="371.20" stroke="#262626" stroke-width="1.2"/>
<text x="444.10" y="373.45" font-size="6.3" text-anchor="end">5</text>
<line x1="447.50" y1="360.00" x2="450.30" y2="360.00" stroke="#262626" stroke-width="1.2"/>
<text x="444.10" y="362.25" font-size="6.3" text-anchor="end">10</text>
<line x1="447.50" y1="348.80" x2="450.30" y2="348.80" stroke="#262626" stroke-width="1.2"/>
<text x="444.10" y="351.05" font-size="6.3" text-anchor="end">15</text>
<line x1="447.50" y1="337.60" x2="450.30" y2="337.60" stroke="#262626" stroke-width="1.2"/>
<text x="444.10" y="339.85" font-size="6.3" text-anchor="end">20</text>
<line x1="447.50" y1="326.40" x2="450.30" y2="326.40" stroke="#262626" stroke-width="1.2"/>
<text x="444.10" y="328.65" font-size="6.3" text-anchor="end">25</text>
<line x1="450.30" y1="382.40" x2="499.70" y2="382.40" stroke="#262626" stroke-width="1.2"/>
<line x1="463.40" y1="382.40" x2="463.40" y2="385.00" stroke="#262626" stroke-width="1.2"/>
<line x1="487.40" y1="382.40" x2="487.40" y2="385.00" stroke="#262626" stroke-width="1.2"/>
<rect x="455.80" y="340.51" width="15.30" height="41.89" fill="#2ca8e0"/>
<line x1="463.45" y1="340.51" x2="463.45" y2="331.33" stroke="#4a5a66" stroke-width="1.2"/>
<line x1="460.25" y1="331.33" x2="466.65" y2="331.33" stroke="#4a5a66" stroke-width="1.2"/>
<rect x="479.60" y="354.18" width="15.70" height="28.22" fill="#c2061f"/>
<line x1="487.45" y1="354.18" x2="487.45" y2="347.46" stroke="#4a3a3e" stroke-width="1.2"/>
<line x1="484.25" y1="347.46" x2="490.65" y2="347.46" stroke="#4a3a3e" stroke-width="1.2"/>
<text x="463.20" y="394.20" font-size="6.3" text-anchor="middle">WT</text>
<text x="487.20" y="394.20" font-size="6.3" text-anchor="middle">NP</text>
<text x="421.60" y="353.10" font-size="8.4" stroke="#3a3a3a" stroke-width="0.06" text-anchor="middle" textLength="58.20" lengthAdjust="spacingAndGlyphs" transform="rotate(-90 421.60 353.10)">Percentage of GFP-</text>
<text x="431.00" y="352.30" font-size="8.4" stroke="#3a3a3a" stroke-width="0.06" text-anchor="middle" textLength="76.40" lengthAdjust="spacingAndGlyphs" transform="rotate(-90 431.00 352.30)">CD11b+ Ly6G+ cells (%)</text>
<text x="8.20" y="421.70" font-size="11.5" stroke="#111" stroke-width="0.45" fill="#111" font-weight="bold">J</text>
<text x="61.30" y="430.70" font-size="8.5" stroke="#3a3a3a" stroke-width="0.06" textLength="118.60" lengthAdjust="spacingAndGlyphs">Thymus T-cell Subgroups (d55)</text>
<line x1="54.00" y1="437.50" x2="54.00" y2="515.20" stroke="#262626" stroke-width="1.2"/>
<line x1="51.20" y1="515.20" x2="54.00" y2="515.20" stroke="#262626" stroke-width="1.2"/>
<text x="47.80" y="517.45" font-size="6.3" text-anchor="end">0</text>
<line x1="51.20" y1="499.85" x2="54.00" y2="499.85" stroke="#262626" stroke-width="1.2"/>
<text x="47.80" y="502.10" font-size="6.3" text-anchor="end">20</text>
<line x1="51.20" y1="484.50" x2="54.00" y2="484.50" stroke="#262626" stroke-width="1.2"/>
<text x="47.80" y="486.75" font-size="6.3" text-anchor="end">40</text>
<line x1="51.20" y1="469.15" x2="54.00" y2="469.15" stroke="#262626" stroke-width="1.2"/>
<text x="47.80" y="471.40" font-size="6.3" text-anchor="end">60</text>
<line x1="51.20" y1="453.80" x2="54.00" y2="453.80" stroke="#262626" stroke-width="1.2"/>
<text x="47.80" y="456.05" font-size="6.3" text-anchor="end">80</text>
<line x1="51.20" y1="438.45" x2="54.00" y2="438.45" stroke="#262626" stroke-width="1.2"/>
<text x="47.80" y="440.70" font-size="6.3" text-anchor="end">100</text>
<rect x="56.80" y="503.69" width="4.80" height="11.51" fill="#2ca8e0"/>
<line x1="59.20" y1="503.69" x2="59.20" y2="502.15" stroke="#222222" stroke-width="1.2"/>
<line x1="57.70" y1="502.15" x2="60.70" y2="502.15" stroke="#222222" stroke-width="1.2"/>
<rect x="66.10" y="500.23" width="4.80" height="14.97" fill="#c7c4cb"/>
<line x1="68.50" y1="500.23" x2="68.50" y2="496.78" stroke="#222222" stroke-width="1.2"/>
<line x1="67.00" y1="496.78" x2="70.00" y2="496.78" stroke="#222222" stroke-width="1.2"/>
<rect x="75.50" y="504.07" width="4.80" height="11.13" fill="#c2061f"/>
<line x1="77.90" y1="504.07" x2="77.90" y2="502.69" stroke="#222222" stroke-width="1.2"/>
<line x1="76.40" y1="502.69" x2="79.40" y2="502.69" stroke="#222222" stroke-width="1.2"/>
<rect x="85.00" y="500.23" width="4.80" height="14.97" fill="#c7c4cb"/>
<line x1="87.40" y1="500.23" x2="87.40" y2="496.01" stroke="#222222" stroke-width="1.2"/>
<line x1="85.90" y1="496.01" x2="88.90" y2="496.01" stroke="#222222" stroke-width="1.2"/>
<rect x="94.50" y="511.36" width="4.80" height="3.84" fill="#2ca8e0"/>
<line x1="96.90" y1="511.36" x2="96.90" y2="508.29" stroke="#222222" stroke-width="1.2"/>
<line x1="95.40" y1="508.29" x2="98.40" y2="508.29" stroke="#222222" stroke-width="1.2"/>
<rect x="103.80" y="511.36" width="4.80" height="3.84" fill="#c7c4cb"/>
<line x1="106.20" y1="511.36" x2="106.20" y2="508.29" stroke="#222222" stroke-width="1.2"/>
<line x1="104.70" y1="508.29" x2="107.70" y2="508.29" stroke="#222222" stroke-width="1.2"/>
<rect x="113.20" y="512.13" width="4.80" height="3.07" fill="#c2061f"/>
<line x1="115.60" y1="512.13" x2="115.60" y2="510.60" stroke="#222222" stroke-width="1.2"/>
<line x1="114.10" y1="510.60" x2="117.10" y2="510.60" stroke="#222222" stroke-width="1.2"/>
<rect x="122.60" y="510.60" width="4.80" height="4.61" fill="#c7c4cb"/>
<line x1="125.00" y1="510.60" x2="125.00" y2="507.14" stroke="#222222" stroke-width="1.2"/>
<line x1="123.50" y1="507.14" x2="126.50" y2="507.14" stroke="#222222" stroke-width="1.2"/>
<rect x="132.20" y="509.06" width="4.80" height="6.14" fill="#2ca8e0"/>
<line x1="134.60" y1="509.06" x2="134.60" y2="507.14" stroke="#222222" stroke-width="1.2"/>
<line x1="133.10" y1="507.14" x2="136.10" y2="507.14" stroke="#222222" stroke-width="1.2"/>
<rect x="141.50" y="508.14" width="4.80" height="7.06" fill="#c7c4cb"/>
<line x1="143.90" y1="508.14" x2="143.90" y2="506.14" stroke="#222222" stroke-width="1.2"/>
<line x1="142.40" y1="506.14" x2="145.40" y2="506.14" stroke="#222222" stroke-width="1.2"/>
<rect x="150.90" y="511.90" width="4.80" height="3.30" fill="#c2061f"/>
<line x1="153.30" y1="511.90" x2="153.30" y2="509.98" stroke="#222222" stroke-width="1.2"/>
<line x1="151.80" y1="509.98" x2="154.80" y2="509.98" stroke="#222222" stroke-width="1.2"/>
<rect x="160.30" y="508.75" width="4.80" height="6.45" fill="#c7c4cb"/>
<line x1="162.70" y1="508.75" x2="162.70" y2="506.76" stroke="#222222" stroke-width="1.2"/>
<line x1="161.20" y1="506.76" x2="164.20" y2="506.76" stroke="#222222" stroke-width="1.2"/>
<rect x="169.80" y="462.24" width="4.80" height="52.96" fill="#2ca8e0"/>
<line x1="172.20" y1="462.24" x2="172.20" y2="460.32" stroke="#222222" stroke-width="1.2"/>
<line x1="170.70" y1="460.32" x2="173.70" y2="460.32" stroke="#222222" stroke-width="1.2"/>
<rect x="179.10" y="487.19" width="4.80" height="28.01" fill="#c7c4cb"/>
<line x1="181.50" y1="487.19" x2="181.50" y2="481.81" stroke="#222222" stroke-width="1.2"/>
<line x1="180.00" y1="481.81" x2="183.00" y2="481.81" stroke="#222222" stroke-width="1.2"/>
<rect x="188.50" y="457.25" width="4.80" height="57.95" fill="#c2061f"/>
<line x1="190.90" y1="457.25" x2="190.90" y2="454.41" stroke="#222222" stroke-width="1.2"/>
<line x1="189.40" y1="454.41" x2="192.40" y2="454.41" stroke="#222222" stroke-width="1.2"/>
<rect x="197.90" y="483.73" width="4.80" height="31.47" fill="#c7c4cb"/>
<line x1="200.30" y1="483.73" x2="200.30" y2="477.36" stroke="#222222" stroke-width="1.2"/>
<line x1="198.80" y1="477.36" x2="201.80" y2="477.36" stroke="#222222" stroke-width="1.2"/>
<line x1="54.00" y1="515.20" x2="205.70" y2="515.20" stroke="#262626" stroke-width="1.2"/>
<line x1="59.20" y1="515.20" x2="59.20" y2="517.80" stroke="#262626" stroke-width="1.2"/>
<line x1="68.50" y1="515.20" x2="68.50" y2="517.80" stroke="#262626" stroke-width="1.2"/>
<line x1="77.90" y1="515.20" x2="77.90" y2="517.80" stroke="#262626" stroke-width="1.2"/>
<line x1="87.40" y1="515.20" x2="87.40" y2="517.80" stroke="#262626" stroke-width="1.2"/>
<line x1="96.90" y1="515.20" x2="96.90" y2="517.80" stroke="#262626" stroke-width="1.2"/>
<line x1="106.20" y1="515.20" x2="106.20" y2="517.80" stroke="#262626" stroke-width="1.2"/>
<line x1="115.60" y1="515.20" x2="115.60" y2="517.80" stroke="#262626" stroke-width="1.2"/>
<line x1="125.00" y1="515.20" x2="125.00" y2="517.80" stroke="#262626" stroke-width="1.2"/>
<line x1="134.60" y1="515.20" x2="134.60" y2="517.80" stroke="#262626" stroke-width="1.2"/>
<line x1="143.90" y1="515.20" x2="143.90" y2="517.80" stroke="#262626" stroke-width="1.2"/>
<line x1="153.30" y1="515.20" x2="153.30" y2="517.80" stroke="#262626" stroke-width="1.2"/>
<line x1="162.70" y1="515.20" x2="162.70" y2="517.80" stroke="#262626" stroke-width="1.2"/>
<line x1="172.20" y1="515.20" x2="172.20" y2="517.80" stroke="#262626" stroke-width="1.2"/>
<line x1="181.50" y1="515.20" x2="181.50" y2="517.80" stroke="#262626" stroke-width="1.2"/>
<line x1="190.90" y1="515.20" x2="190.90" y2="517.80" stroke="#262626" stroke-width="1.2"/>
<line x1="200.30" y1="515.20" x2="200.30" y2="517.80" stroke="#262626" stroke-width="1.2"/>
<line x1="92.30" y1="438.30" x2="92.30" y2="515.20" stroke="#444" stroke-width="1.3" stroke-dasharray="1.4 3.0"/>
<line x1="130.10" y1="438.30" x2="130.10" y2="515.20" stroke="#444" stroke-width="1.3" stroke-dasharray="1.4 3.0"/>
<line x1="167.60" y1="438.30" x2="167.60" y2="515.20" stroke="#444" stroke-width="1.3" stroke-dasharray="1.4 3.0"/>
<text x="75.10" y="450.80" font-size="6.6" text-anchor="middle">CD4<tspan dy="-2.6" font-size="4.5">+</tspan></text>
<text x="111.30" y="450.80" font-size="6.6" text-anchor="middle">CD4<tspan dy="-2.6" font-size="4.5">+</tspan><tspan dy="2.6">CD8</tspan><tspan dy="-2.6" font-size="4.5">+</tspan></text>
<text x="148.50" y="450.80" font-size="6.6" text-anchor="middle">CD8<tspan dy="-2.6" font-size="4.5">+</tspan></text>
<text x="187.20" y="450.80" font-size="6.6" text-anchor="middle">CD4<tspan dy="-2.6" font-size="4.5">-</tspan><tspan dy="2.6">CD8</tspan><tspan dy="-2.6" font-size="4.5">-</tspan></text>
<text x="63.00" y="527.00" font-size="6.3" text-anchor="middle">WT</text>
<text x="101.20" y="527.00" font-size="6.3" text-anchor="middle">WT</text>
<text x="139.00" y="527.00" font-size="6.3" text-anchor="middle">WT</text>
<text x="177.10" y="527.00" font-size="6.3" text-anchor="middle">WT</text>
<text x="81.70" y="527.00" font-size="6.3" text-anchor="middle">NP</text>
<text x="120.00" y="527.00" font-size="6.3" text-anchor="middle">NP</text>
<text x="158.10" y="527.00" font-size="6.3" text-anchor="middle">NP</text>
<text x="195.10" y="527.00" font-size="6.3" text-anchor="middle">NP</text>
<rect x="96.50" y="463.00" width="61.00" height="22.00" fill="#ffffff"/>
<rect x="97.60" y="465.50" width="7.20" height="2.40" fill="#2ca8e0"/>
<text x="106.90" y="468.90" font-size="6.6" textLength="49.40" lengthAdjust="spacingAndGlyphs">WT ITK-SYK/GFP+</text>
<rect x="97.60" y="472.40" width="7.20" height="2.40" fill="#c2061f"/>
<text x="106.90" y="475.90" font-size="6.6" textLength="49.40" lengthAdjust="spacingAndGlyphs">NP ITK-SYK/GFP+</text>
<rect x="97.60" y="479.60" width="7.20" height="2.40" fill="#c7c4cb"/>
<text x="106.90" y="483.10" font-size="6.6">GFP−</text>
<text x="22.60" y="474.40" font-size="8.4" stroke="#3a3a3a" stroke-width="0.06" text-anchor="middle" textLength="75.50" lengthAdjust="spacingAndGlyphs" transform="rotate(-90 22.60 474.40)">% of CD90.2<tspan dy="-3.0" font-size="5.4">+</tspan><tspan dy="3.0"> cells within</tspan></text>
<text x="31.80" y="474.80" font-size="8.4" stroke="#3a3a3a" stroke-width="0.06" text-anchor="middle" textLength="74.70" lengthAdjust="spacingAndGlyphs" transform="rotate(-90 31.80 474.80)">GFP<tspan dy="-3.0" font-size="5.4">+</tspan><tspan dy="3.0">/GFP</tspan><tspan dy="-3.0" font-size="5.4">-</tspan><tspan dy="3.0"> thymus cells</tspan></text>
<text x="243.40" y="421.30" font-size="11.5" stroke="#111" stroke-width="0.45" fill="#111" font-weight="bold">K</text>
<text x="291.60" y="425.80" font-size="8.8" stroke="#3a3a3a" stroke-width="0.06" text-anchor="middle" textLength="43.20" lengthAdjust="spacingAndGlyphs">Phenotypic</text>
<text x="291.30" y="436.20" font-size="8.8" stroke="#3a3a3a" stroke-width="0.06" text-anchor="middle" textLength="43.80" lengthAdjust="spacingAndGlyphs">score (d35)</text>
<line x1="268.80" y1="453.50" x2="268.80" y2="515.20" stroke="#262626" stroke-width="1.2"/>
<line x1="266.00" y1="515.20" x2="268.80" y2="515.20" stroke="#262626" stroke-width="1.2"/>
<text x="262.60" y="517.45" font-size="6.3" text-anchor="end">0</text>
<line x1="266.00" y1="503.00" x2="268.80" y2="503.00" stroke="#262626" stroke-width="1.2"/>
<text x="262.60" y="505.25" font-size="6.3" text-anchor="end">2</text>
<line x1="266.00" y1="490.80" x2="268.80" y2="490.80" stroke="#262626" stroke-width="1.2"/>
<text x="262.60" y="493.05" font-size="6.3" text-anchor="end">4</text>
<line x1="266.00" y1="478.60" x2="268.80" y2="478.60" stroke="#262626" stroke-width="1.2"/>
<text x="262.60" y="480.85" font-size="6.3" text-anchor="end">6</text>
<line x1="266.00" y1="466.40" x2="268.80" y2="466.40" stroke="#262626" stroke-width="1.2"/>
<text x="262.60" y="468.65" font-size="6.3" text-anchor="end">8</text>
<line x1="266.00" y1="454.20" x2="268.80" y2="454.20" stroke="#262626" stroke-width="1.2"/>
<text x="262.60" y="456.45" font-size="6.3" text-anchor="end">10</text>
<line x1="268.80" y1="515.20" x2="314.20" y2="515.20" stroke="#262626" stroke-width="1.2"/>
<line x1="280.00" y1="515.20" x2="280.00" y2="517.80" stroke="#262626" stroke-width="1.2"/>
<line x1="302.90" y1="515.20" x2="302.90" y2="517.80" stroke="#262626" stroke-width="1.2"/>
<rect x="272.40" y="468.84" width="15.20" height="46.36" fill="#2ca8e0"/>
<line x1="280.00" y1="468.84" x2="280.00" y2="467.32" stroke="#4a5a66" stroke-width="1.2"/>
<line x1="276.80" y1="467.32" x2="283.20" y2="467.32" stroke="#4a5a66" stroke-width="1.2"/>
<rect x="295.40" y="497.51" width="15.00" height="17.69" fill="#c2061f"/>
<line x1="302.90" y1="497.51" x2="302.90" y2="492.02" stroke="#4a3a3e" stroke-width="1.2"/>
<line x1="299.70" y1="492.02" x2="306.10" y2="492.02" stroke="#4a3a3e" stroke-width="1.2"/>
<line x1="280.00" y1="455.20" x2="302.50" y2="455.20" stroke="#333" stroke-width="0.9"/>
<line x1="280.00" y1="453.00" x2="280.00" y2="457.40" stroke="#333" stroke-width="0.9"/>
<line x1="302.50" y1="453.00" x2="302.50" y2="457.40" stroke="#333" stroke-width="0.9"/>
<text x="291.25" y="457.40" font-size="7" text-anchor="middle" fill="#333">***</text>
<text x="281.20" y="526.50" font-size="6.3" text-anchor="middle">WT</text>
<text x="302.50" y="526.50" font-size="6.3" text-anchor="middle">NP</text>
<rect x="312.00" y="468.20" width="6.10" height="2.40" fill="#2ca8e0"/>
<text x="320.50" y="471.90" font-size="6.7" textLength="32.30" lengthAdjust="spacingAndGlyphs">WT ITK-SYK</text>
<rect x="312.00" y="476.60" width="6.10" height="2.40" fill="#c2061f"/>
<text x="320.50" y="480.30" font-size="6.7" textLength="31.50" lengthAdjust="spacingAndGlyphs">NP ITK-SYK</text>
<text x="250.00" y="483.20" font-size="8.6" stroke="#3a3a3a" stroke-width="0.06" text-anchor="middle" textLength="51.70" lengthAdjust="spacingAndGlyphs" transform="rotate(-90 250.00 483.20)">Phenotypic score</text>
<text x="371.80" y="421.40" font-size="11.5" stroke="#111" stroke-width="0.45" fill="#111" font-weight="bold">L</text>
<text x="418.30" y="431.00" font-size="8.8" stroke="#3a3a3a" stroke-width="0.06" textLength="57.80" lengthAdjust="spacingAndGlyphs">Mouse Survival</text>
<line x1="398.50" y1="449.50" x2="398.50" y2="515.00" stroke="#262626" stroke-width="1.2"/>
<line x1="395.70" y1="515.00" x2="398.50" y2="515.00" stroke="#262626" stroke-width="1.2"/>
<text x="392.30" y="517.25" font-size="6.3" text-anchor="end">0</text>
<line x1="395.70" y1="502.16" x2="398.50" y2="502.16" stroke="#262626" stroke-width="1.2"/>
<text x="392.30" y="504.41" font-size="6.3" text-anchor="end">20</text>
<line x1="395.70" y1="489.32" x2="398.50" y2="489.32" stroke="#262626" stroke-width="1.2"/>
<text x="392.30" y="491.57" font-size="6.3" text-anchor="end">40</text>
<line x1="395.70" y1="476.48" x2="398.50" y2="476.48" stroke="#262626" stroke-width="1.2"/>
<text x="392.30" y="478.73" font-size="6.3" text-anchor="end">60</text>
<line x1="395.70" y1="463.64" x2="398.50" y2="463.64" stroke="#262626" stroke-width="1.2"/>
<text x="392.30" y="465.89" font-size="6.3" text-anchor="end">80</text>
<line x1="395.70" y1="450.80" x2="398.50" y2="450.80" stroke="#262626" stroke-width="1.2"/>
<text x="392.30" y="453.05" font-size="6.3" text-anchor="end">100</text>
<line x1="398.50" y1="515.00" x2="495.40" y2="515.00" stroke="#262626" stroke-width="1.2"/>
<line x1="398.50" y1="515.00" x2="398.50" y2="517.60" stroke="#262626" stroke-width="1.2"/>
<line x1="430.05" y1="515.00" x2="430.05" y2="517.60" stroke="#262626" stroke-width="1.2"/>
<line x1="461.60" y1="515.00" x2="461.60" y2="517.60" stroke="#262626" stroke-width="1.2"/>
<line x1="493.15" y1="515.00" x2="493.15" y2="517.60" stroke="#262626" stroke-width="1.2"/>
<text x="398.50" y="527.40" font-size="6.6" text-anchor="middle">0</text>
<text x="430.05" y="527.40" font-size="6.6" text-anchor="middle">20</text>
<text x="461.60" y="527.40" font-size="6.6" text-anchor="middle">40</text>
<text x="493.15" y="527.40" font-size="6.6" text-anchor="middle">60</text>
<text x="447.10" y="538.00" font-size="8.4" stroke="#3a3a3a" stroke-width="0.06" text-anchor="middle" textLength="36.00" lengthAdjust="spacingAndGlyphs">Days post Tx</text>
<text x="377.20" y="481.40" font-size="8.4" stroke="#3a3a3a" stroke-width="0.06" text-anchor="middle" textLength="61.50" lengthAdjust="spacingAndGlyphs" transform="rotate(-90 377.20 481.40)">Overall survival (OS)</text>
<path d="M398.50,450.80 L442.35,450.80 L442.35,472.18 L448.82,472.18 L448.82,493.62 L453.71,493.62 L453.71,504.28 L464.28,504.28 L464.28,515.00" fill="none" stroke="#47a6cf" stroke-width="1.1"/>
<path d="M398.50,450.80 L464.60,450.80 L464.60,463.64 L478.64,463.64 L478.64,476.48 L481.95,476.48 L481.95,489.32 L483.84,489.32 L483.84,502.16 L485.42,502.16 L485.42,515.00" fill="none" stroke="#c52a50" stroke-width="1.2"/>
<circle cx="442.35" cy="472.18" r="1.1" fill="#47a6cf"/>
<circle cx="449.30" cy="493.62" r="1.1" fill="#47a6cf"/>
<circle cx="454.19" cy="504.28" r="1.1" fill="#47a6cf"/>
<circle cx="464.91" cy="463.64" r="1.3" fill="#c52a50"/>
<circle cx="479.11" cy="476.48" r="1.3" fill="#c52a50"/>
<circle cx="482.42" cy="489.32" r="1.3" fill="#c52a50"/>
<circle cx="484.32" cy="502.16" r="1.3" fill="#c52a50"/>
<circle cx="485.42" cy="515.00" r="1.3" fill="#c52a50"/>
<line x1="461.50" y1="498.80" x2="480.90" y2="498.80" stroke="#444" stroke-width="0.9"/>
<line x1="461.50" y1="497.00" x2="461.50" y2="500.60" stroke="#444" stroke-width="0.9"/>
<line x1="480.90" y1="497.00" x2="480.90" y2="500.60" stroke="#444" stroke-width="0.9"/>
<text x="471.20" y="500.80" font-size="7" text-anchor="middle" fill="#333">***</text>
<line x1="403.70" y1="441.00" x2="410.40" y2="441.00" stroke="#47a6cf" stroke-width="1.0"/>
<circle cx="407.0" cy="441.0" r="1.1" fill="#47a6cf"/>
<text x="412.80" y="443.40" font-size="6.8" textLength="32.70" lengthAdjust="spacingAndGlyphs">WT ITK-SYK</text>
<line x1="450.40" y1="441.00" x2="457.00" y2="441.00" stroke="#c52a50" stroke-width="1.0"/>
<circle cx="453.7" cy="441.0" r="1.3" fill="#c52a50"/>
<text x="459.20" y="443.40" font-size="6.8" textLength="30.80" lengthAdjust="spacingAndGlyphs">NP ITK-SYK</text>
</svg>
</body></html>
